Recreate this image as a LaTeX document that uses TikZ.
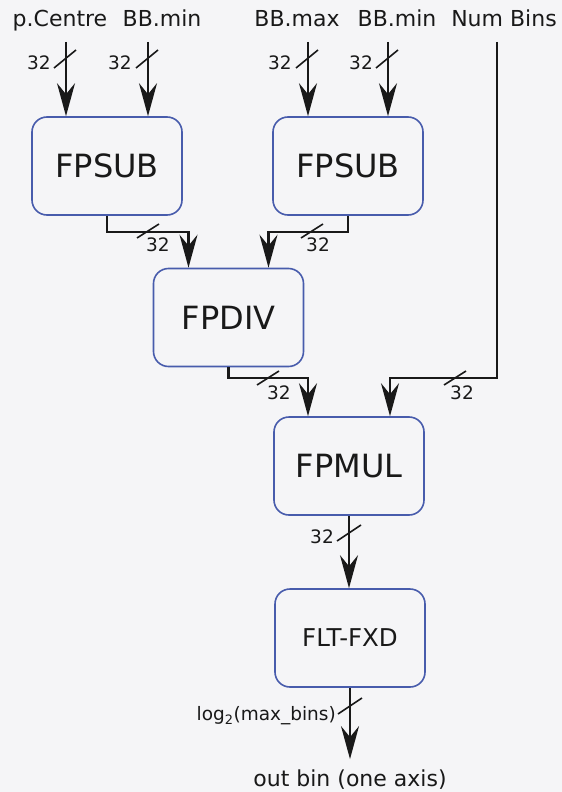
\documentclass[tikz,border=0pt]{standalone}
\usepackage{fontspec}
\setmainfont{DejaVu Sans}
\usepackage{xcolor}
\usetikzlibrary{arrows.meta}
\definecolor{unit_blue}{RGB}{72,92,172}
\definecolor{wire_gray}{RGB}{25,25,25}
\definecolor{page_gray}{RGB}{245,245,247}

\begin{document}
\begin{tikzpicture}[
  x=1bp,y=-1bp,
  unit/.style={rounded corners=15bp,minimum width=150bp,minimum height=98bp,
               draw=unit_blue,line width=1.6bp,text=wire_gray,
               font=\fontsize{32bp}{36bp}\selectfont},
  wire/.style={-{Stealth[length=33bp,width=18bp,inset=11bp]},line width=2.2bp,color=wire_gray},
  tick/.style={line width=1.6bp,color=wire_gray},
  lbl/.style={text=wire_gray,inner sep=0pt,font=\fontsize{22bp}{26bp}\selectfont},
  bits/.style={text=wire_gray,inner sep=0pt,font=\fontsize{18.5bp}{21bp}\selectfont}
]
\fill[page_gray] (0,0) rectangle (562,792);
\useasboundingbox (0,0) rectangle (562,792);

% input names
\node[lbl,anchor=base] (pcen)   at (60,27)  {p.Centre};
\node[lbl,anchor=base] (bbmin1) at (162,27) {BB.min};
\node[lbl,anchor=base] (bbmax)  at (297,27) {BB.max};
\node[lbl,anchor=base] (bbmin2) at (397,27) {BB.min};
\node[lbl,anchor=base] (nbins)  at (504,27) {Num Bins};
\coordinate (in1) at (66,42);
\coordinate (in2) at (148,42);
\coordinate (in3) at (308,42);
\coordinate (in4) at (388,42);
\coordinate (in5) at (497,42);

% units
\node[unit] (sub1) at (107,166)     {FPSUB};
\node[unit] (sub2) at (348,166)     {FPSUB};
\node[unit] (div)  at (228.5,317.5) {FPDIV};
\node[unit] (mul)  at (349,466)     {FPMUL};
\node[unit,font=\fontsize{24.5bp}{28bp}\selectfont] (fxd) at (350,638) {FLT-FXD};
\node[lbl,anchor=base] (outb) at (350,786) {out bin (one axis)};

% wires
\draw[wire] (in1) -- (in1 |- sub1.north);
\draw[wire] (in2) -- (in2 |- sub1.north);
\draw[wire] (in3) -- (in3 |- sub2.north);
\draw[wire] (in4) -- (in4 |- sub2.north);
\draw[wire] (sub1.south) -- ++(0,16) -| ([xshift=-40bp]div.north);
\draw[wire] (sub2.south) -- ++(0,16) -| ([xshift=40bp]div.north);
\draw[wire] (div.south) -- ++(0,11) -| ([xshift=-41bp]mul.north);
\draw[wire] (in5) -- ++(0,336) -| ([xshift=41bp]mul.north);
\draw[wire] (mul.south) -- (mul.south |- fxd.north);
\draw[wire,shorten >=10bp] (fxd.south) -- (fxd.south |- outb.north);

% bus widths
\draw[tick] (65,59) ++(-11,9) -- ++(22,-18);
\draw[tick] (147,59) ++(-11,9) -- ++(22,-18);
\draw[tick] (307,59) ++(-11,9) -- ++(22,-18);
\draw[tick] (387,59) ++(-11,9) -- ++(22,-18);
\node[bits] (w1) at (39,63)  {32};
\node[bits] (w2) at (120,63) {32};
\node[bits] (w3) at (280,63) {32};
\node[bits] (w4) at (361,63) {32};
\draw[tick] (148,231) ++(-11,7) -- ++(22,-14);
\draw[tick] (312,231) ++(-11,7) -- ++(22,-14);
\node[bits] (w5) at (158,245) {32};
\node[bits] (w6) at (318,245) {32};
\draw[tick] (268,378) ++(-11,7) -- ++(22,-14);
\draw[tick] (455,378) ++(-11,7) -- ++(22,-14);
\node[bits] (w7) at (279,393) {32};
\node[bits] (w8) at (462,393) {32};
\draw[tick] (349,533) ++(-12,8) -- ++(24,-16);
\node[bits] (w9) at (322,537) {32};
\draw[tick] (350,706) ++(-12,8) -- ++(24,-16);
\node[bits,anchor=east,font=\fontsize{18.5bp}{21bp}\selectfont] (wlog) at (336,716)
  {log\textsubscript{2}(max\_bins)};
\end{tikzpicture}
\end{document}
